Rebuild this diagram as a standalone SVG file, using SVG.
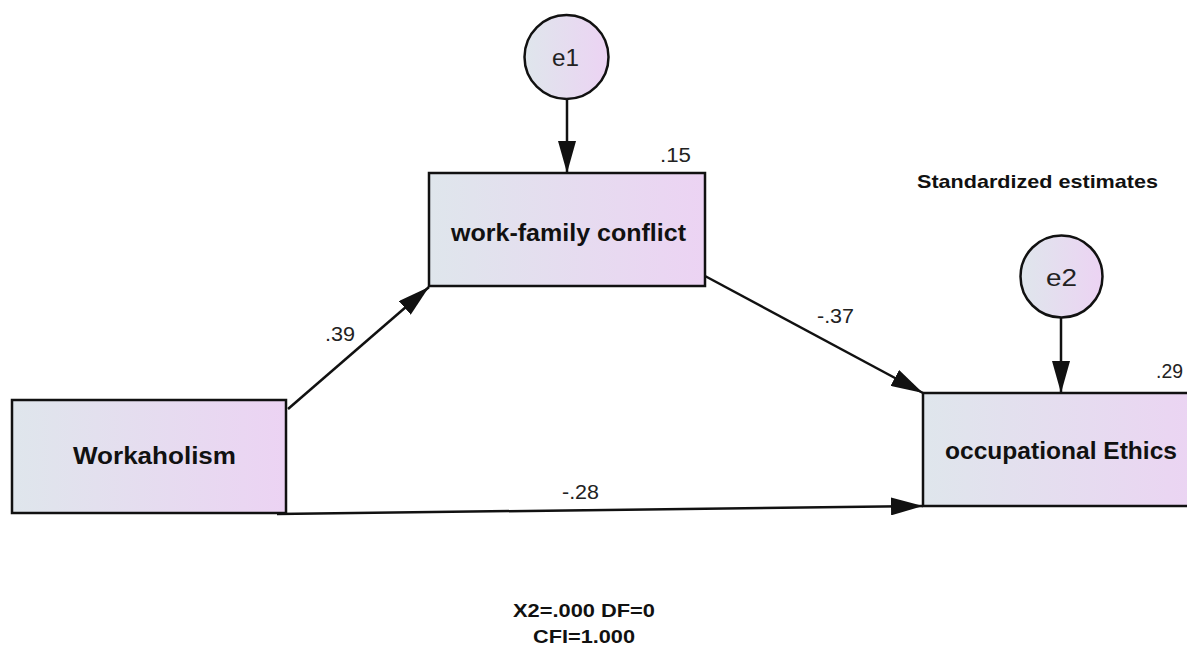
<svg xmlns="http://www.w3.org/2000/svg" width="1187" height="646" viewBox="0 0 1187 646">
<style>
.box{stroke:#111;stroke-width:2.5;fill:url(#g)}
.circ{stroke:#111;stroke-width:2.5;fill:url(#g)}
.lbl{font-family:"Liberation Sans",Arial,sans-serif;font-weight:bold;font-size:23px;fill:#111}
.num{font-family:"Liberation Sans",Arial,sans-serif;font-size:20px;fill:#222}
.elbl{font-family:"Liberation Sans",Arial,sans-serif;font-size:24px;fill:#222}
.info{font-family:"Liberation Sans",Arial,sans-serif;font-weight:bold;font-size:19px;fill:#111}
.conn{stroke:#111;stroke-width:2.5;fill:none;marker-end:url(#arr)}
</style>
<defs>
<linearGradient id="g" x1="0" y1="0" x2="1" y2="0">
<stop offset="0" stop-color="#dfe6ec"/>
<stop offset="1" stop-color="#ecd3f3"/>
</linearGradient>
<marker id="arr" markerUnits="userSpaceOnUse" markerWidth="32" markerHeight="18" refX="32" refY="9" orient="auto">
<path d="M0,0 L32,9 L0,18 z" fill="#111"/>
</marker>
</defs>
<rect width="1187" height="646" fill="#fff"/>
<g id="connectors">
<line class="conn" x1="567" y1="99" x2="567" y2="173"/>
<line class="conn" x1="1061" y1="318" x2="1061" y2="393"/>
<line class="conn" x1="288" y1="409" x2="429" y2="287"/>
<line class="conn" x1="705" y1="276" x2="923" y2="393"/>
<line class="conn" x1="277" y1="514" x2="923" y2="506"/>
<text class="num" x="325" y="341" textLength="30" lengthAdjust="spacingAndGlyphs">.39</text>
<text class="num" x="817" y="323" textLength="37" lengthAdjust="spacingAndGlyphs">-.37</text>
<text class="num" x="562" y="499" textLength="37" lengthAdjust="spacingAndGlyphs">-.28</text>
</g>
<g id="e1">
<circle class="circ" cx="566.5" cy="57" r="42"/>
<text class="elbl" x="552" y="66" textLength="27" lengthAdjust="spacingAndGlyphs">e1</text>
</g>
<g id="e2">
<circle class="circ" cx="1061.5" cy="276.5" r="41"/>
<text class="elbl" x="1046" y="286" textLength="31" lengthAdjust="spacingAndGlyphs">e2</text>
</g>
<g id="workfamily">
<rect class="box" x="429" y="173" width="276" height="113"/>
<text class="lbl" x="451" y="241" textLength="235" lengthAdjust="spacingAndGlyphs">work-family conflict</text>
<text class="num" x="660" y="162" textLength="31" lengthAdjust="spacingAndGlyphs">.15</text>
</g>
<g id="workaholism">
<rect class="box" x="12" y="400" width="274" height="113"/>
<text class="lbl" x="73" y="464" textLength="163" lengthAdjust="spacingAndGlyphs">Workaholism</text>
</g>
<g id="ethics">
<rect class="box" x="923" y="393" width="290" height="113"/>
<text class="lbl" x="945" y="459" textLength="232" lengthAdjust="spacingAndGlyphs">occupational Ethics</text>
<text class="num" x="1156" y="378" textLength="27" lengthAdjust="spacingAndGlyphs">.29</text>
</g>
<g id="info">
<text class="info" x="917" y="188" textLength="241" lengthAdjust="spacingAndGlyphs">Standardized estimates</text>
<text class="info" x="513" y="617" textLength="142" lengthAdjust="spacingAndGlyphs">X2=.000 DF=0</text>
<text class="info" x="533" y="643" textLength="102" lengthAdjust="spacingAndGlyphs">CFI=1.000</text>
</g>
</svg>
